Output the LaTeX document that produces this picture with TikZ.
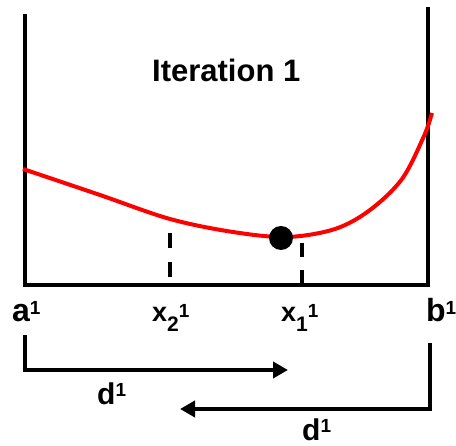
\documentclass[tikz,border=0pt]{standalone}
\usepackage{fontspec}
\setmainfont{Liberation Sans}
\usetikzlibrary{arrows.meta}
\newcommand\mysup[2]{\raisebox{#1}{\fontsize{19}{19}\selectfont #2}}
\newcommand\mysub[2]{\raisebox{#1}{\fontsize{21}{21}\selectfont #2}}
\begin{document}
\begin{tikzpicture}[x=1pt,y=-1pt,
  axis/.style={line width=4pt,line join=miter},
  curve/.style={red,line width=4pt},
  guide/.style={line width=3.5pt,dash pattern=on 15pt off 14pt},
  lbl/.style={anchor=base west,inner sep=0pt,font=\bfseries\fontsize{32}{32}\selectfont},
  xlbl/.style={anchor=base west,inner sep=0pt,font=\bfseries\fontsize{27}{27}\selectfont},
  span/.style={line width=4pt,line join=miter,-{Triangle[length=15pt,width=16pt]}}]
\useasboundingbox (0,0) rectangle (456,446);
% axes
\coordinate (lt) at (25,14);
\coordinate (o) at (25,285);
\coordinate (rb) at (428,285);
\coordinate (rt) at (428,7);
\draw[axis] (lt) -- (o) -- (rb) -- (rt);
% title
\node[anchor=base west,inner sep=0pt,font=\bfseries\fontsize{31}{31}\selectfont] (title) at (152,82) {Iteration 1};
% curve
\draw[curve] plot[smooth,tension=0.55] coordinates {(23,169) (100,195) (170,219) (233,232) (287,237) (335,229) (370,210) (402,179) (424,136) (432,113)};
\node[circle,fill=black,minimum size=24pt,inner sep=0pt] (dot) at (281,238) {};
% guides
\coordinate (g2t) at (170,233);
\coordinate (g2b) at (170,278);
\coordinate (g1t) at (302,243);
\coordinate (g1b) at (302,285);
\draw[guide] (g2t) -- (g2b);
\draw[guide,dash pattern=on 14pt off 13pt] (g1t) -- (g1b);
% labels
\node[lbl] (a) at (12,322) {a\mysup{7pt}{1}};
\node[xlbl] (x2) at (152,322) {x\mysub{-10pt}{2}\mysup{4.5pt}{1}};
\node[xlbl] (x1) at (281,322) {x\mysub{-10pt}{1}\mysup{4.5pt}{1}};
\node[lbl] (b) at (426,322) {b\mysup{7pt}{1}};
% span arrows
\coordinate (s1a) at (25,335);
\coordinate (s1b) at (25,370);
\coordinate (s1c) at (288,370);
\draw[span] (s1a) -- (s1b) -- (s1c);
\coordinate (s2a) at (430,343);
\coordinate (s2b) at (430,409);
\coordinate (s2c) at (180,409);
\draw[span] (s2a) -- (s2b) -- (s2c);
\node[lbl,font=\bfseries\fontsize{30}{30}\selectfont] (d1) at (97,405) {d\mysup{8pt}{1}};
\node[lbl,font=\bfseries\fontsize{30}{30}\selectfont] (d2) at (302,441) {d\mysup{8pt}{1}};
\end{tikzpicture}
\end{document}
